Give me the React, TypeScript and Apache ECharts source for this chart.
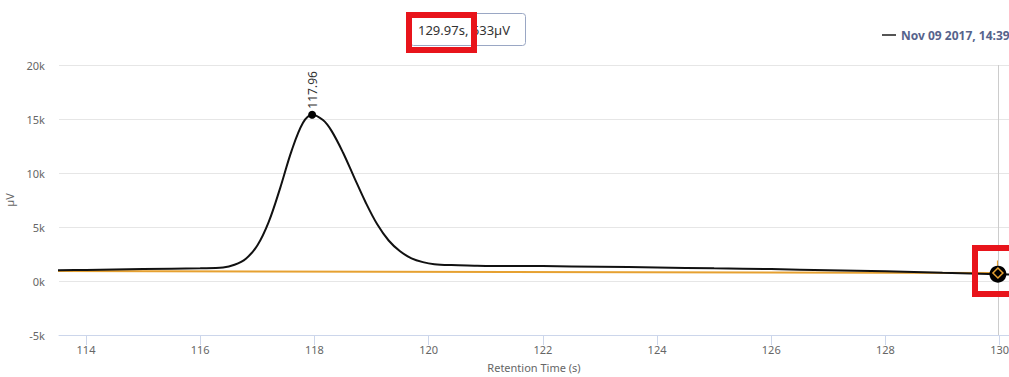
import React, { useEffect, useRef } from "react";
import * as echarts from "echarts";

const seriesName = "Nov 09 2017, 14:39";
const retentionTimes = [
  113.5, 114, 115, 116, 116.4, 116.6, 116.8, 117.0, 117.2, 117.4, 117.6, 117.8, 117.96,
  118.15, 118.3, 118.5, 118.7, 118.9, 119.1, 119.3, 119.5, 119.7, 119.9, 120.1, 120.4,
  120.8, 121, 122, 123, 124, 125, 126, 127, 128, 129, 129.97, 130.2,
];
const signal = [
  1000, 1030, 1100, 1180, 1250, 1500, 2070, 3280, 5470, 8600, 12050, 14650, 15400,
  14900, 13900, 11900, 9550, 7250, 5250, 3750, 2750, 2100, 1750, 1560, 1470,
  1420, 1400, 1380, 1320, 1250, 1170, 1100, 1000, 900, 760, 633, 600,
];
const baselineTimes = [113.5, 129.97, 129.97];
const baselineValues = [930, 735, 1900];
const xTicks = [114, 116, 118, 120, 122, 124, 126, 128, 130];
const peakTime = 117.96;
const peakValue = 15400;
const hoverTime = 129.97;
const hoverValue = 633;
const tooltipText = "129.97s, 633µV";

export default function App() {
  const ref = useRef<HTMLDivElement>(null);
  useEffect(() => {
    if (!ref.current) return;
    const chart = echarts.init(ref.current, null, { renderer: "svg" });
    const font = "Noto Sans";
    chart.setOption({
      animation: false,
      textStyle: { fontFamily: font },
      grid: { left: 59, right: 0, top: 65, bottom: 42, containLabel: false, outerBoundsMode: "none" },
      legend: {
        data: [seriesName],
        left: 877,
        top: 24,
        icon: "rect",
        itemWidth: 14,
        itemHeight: 2,
        itemGap: 5,
        itemStyle: { color: "#555" },
        textStyle: { color: "#56638c", fontWeight: "bold", fontSize: 12, fontFamily: font },
      },
      xAxis: {
        type: "value",
        min: 113.527,
        max: 130.164,
        name: "Retention Time (s)",
        nameLocation: "middle",
        nameGap: 27,
        nameTextStyle: { color: "#666", fontSize: 11 },
        axisLine: { show: true, onZero: false, lineStyle: { color: "#ccd6eb" } },
        axisTick: { show: true, length: 10, customValues: xTicks, lineStyle: { color: "#ccd6eb" } },
        axisLabel: { customValues: xTicks, color: "#666", fontSize: 11, margin: 9 },
        splitLine: { show: false },
      },
      yAxis: {
        type: "value",
        min: -5000,
        max: 20000,
        interval: 5000,
        name: "µV",
        nameLocation: "middle",
        nameGap: 44,
        nameRotate: 90,
        nameTextStyle: { color: "#666", fontSize: 11 },
        axisLine: { show: false },
        axisTick: { show: false },
        axisLabel: {
          color: "#666",
          fontSize: 11,
          margin: 14,
          formatter: (v: number) => `${v / 1000}k`,
        },
        splitLine: { lineStyle: { color: "#e6e6e6" } },
      },
      series: [
        {
          name: "Baseline",
          type: "line",
          data: baselineTimes.map((t, i) => [t, baselineValues[i]]),
          showSymbol: false,
          lineStyle: { color: "#e6a131", width: 2 },
          itemStyle: { color: "#e6a131" },
          z: 2,
        },
        {
          name: seriesName,
          type: "line",
          data: retentionTimes.map((t, i) => [t, signal[i]]),
          smooth: 0.35,
          showSymbol: false,
          lineStyle: { color: "#111", width: 2 },
          itemStyle: { color: "#111" },
          z: 3,
          markLine: {
            silent: true,
            symbol: "none",
            label: { show: false },
            lineStyle: { color: "#cccccc", width: 1, type: "solid" },
            data: [{ xAxis: hoverTime }],
          },
          markPoint: {
            data: [
              {
                coord: [peakTime, peakValue],
                symbol: "circle",
                symbolSize: 8,
                itemStyle: { color: "#000" },
                label: {
                  show: true,
                  formatter: String(peakTime),
                  position: "top",
                  distance: 2,
                  rotate: 90,
                  align: "left",
                  verticalAlign: "middle",
                  color: "#333",
                  fontSize: 12,
                },
              },
              {
                coord: [hoverTime, hoverValue],
                symbol: "circle",
                symbolSize: 17,
                itemStyle: { color: "#000" },
                label: { show: false },
              },
              {
                coord: [hoverTime, baselineValues[1]],
                symbol: "diamond",
                symbolSize: 10,
                itemStyle: { color: "rgba(0,0,0,0)", borderColor: "#e6a131", borderWidth: 1.5 },
                label: { show: false },
              },
            ],
          },
        },
      ],
      graphic: [
        {
          type: "rect",
          shape: { x: 410.5, y: 13.5, width: 115, height: 32, r: 3 },
          style: { fill: "#fff", stroke: "#9aa7c4", lineWidth: 1 },
          z: 100,
        },
        {
          type: "text",
          x: 418,
          y: 30,
          style: {
            text: tooltipText,
            fill: "#333",
            fontSize: 13,
            fontFamily: font,
            verticalAlign: "middle",
          },
          z: 101,
        },
        {
          type: "rect",
          shape: { x: 409, y: 15, width: 65, height: 35 },
          style: { fill: "none", stroke: "#e8141b", lineWidth: 6 },
          z: 110,
        },
        {
          type: "rect",
          shape: { x: 975, y: 248, width: 50, height: 46 },
          style: { fill: "none", stroke: "#e8141b", lineWidth: 6 },
          z: 110,
        },
      ],
    });
    return () => chart.dispose();
  }, []);
  return (
    <div
      ref={ref}
      style={{ position: "fixed", left: 0, top: 0, width: 1009, height: 377, background: "#fff" }}
    />
  );
}
